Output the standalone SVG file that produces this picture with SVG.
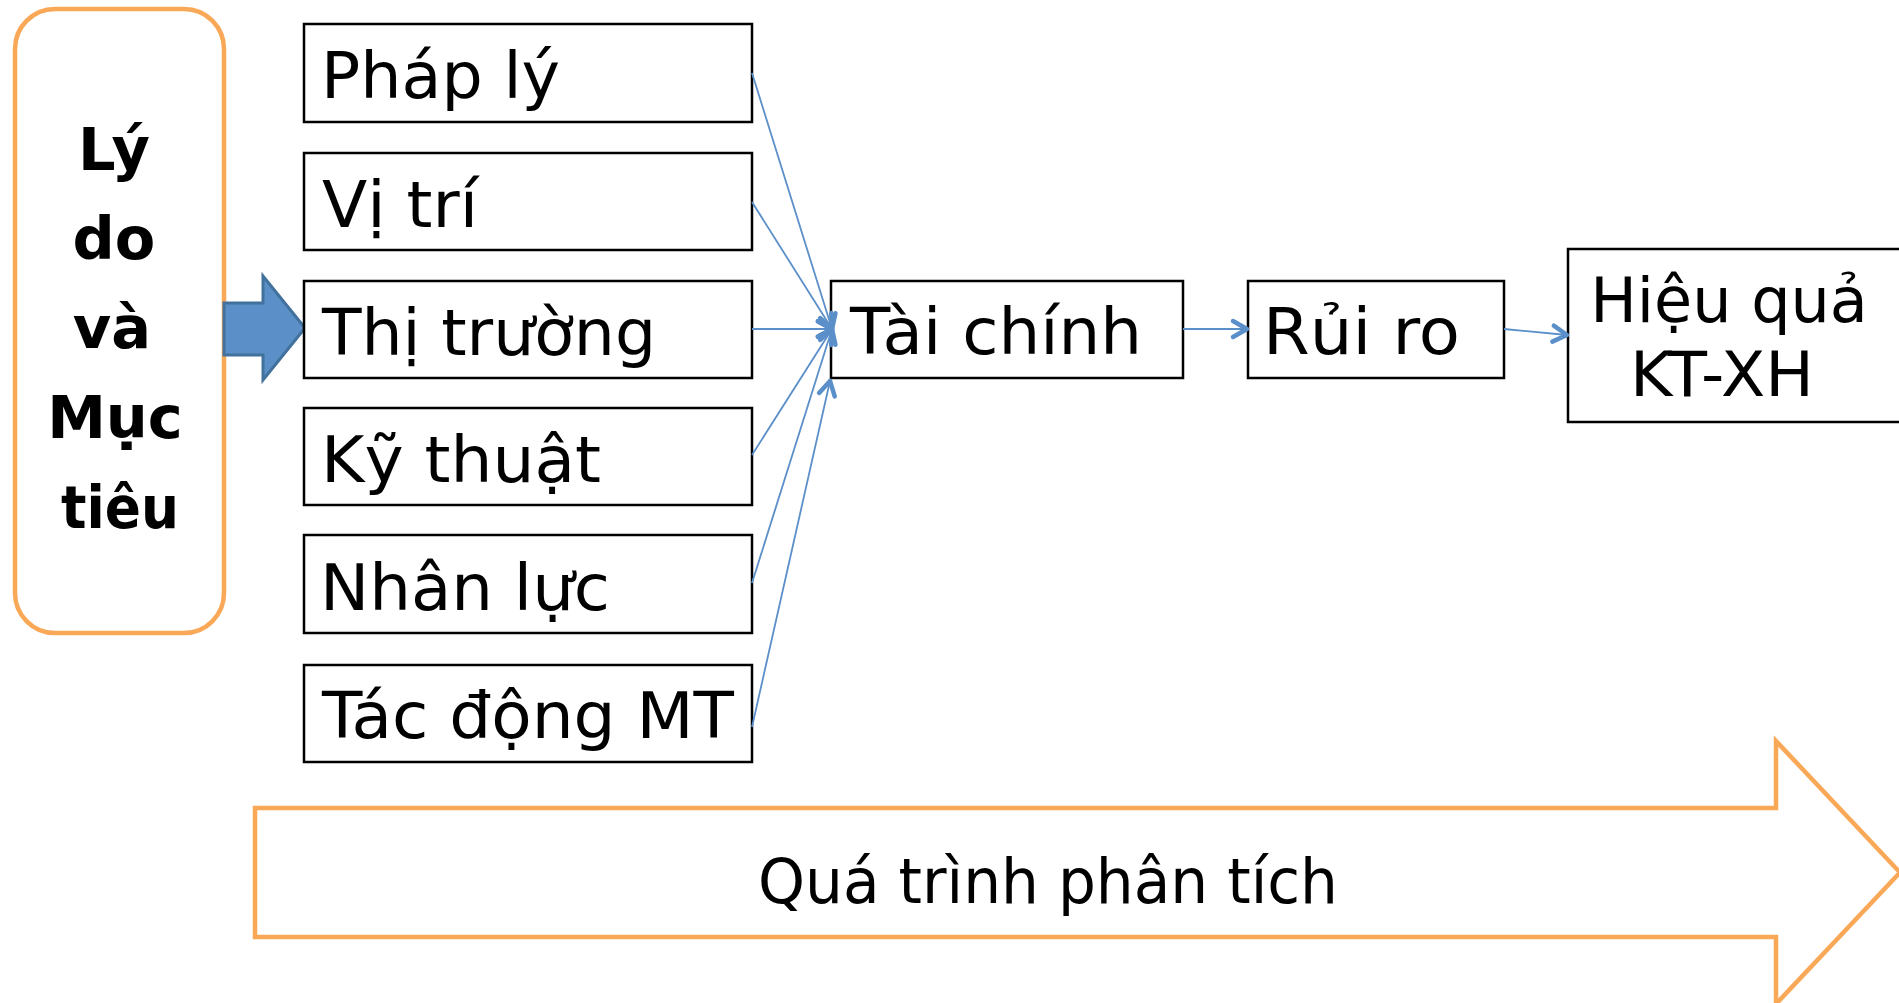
<svg xmlns="http://www.w3.org/2000/svg" width="1899" height="1003" viewBox="0 0 1899 1003">
<style>
.box{fill:#fff;stroke:#000;stroke-width:2.5}
.t{font-family:"DejaVu Sans","Liberation Sans",sans-serif;font-size:64px;fill:#000}
.h{font-family:"DejaVu Sans","Liberation Sans",sans-serif;font-size:62px;fill:#000;text-anchor:middle}
.b{font-family:"DejaVu Sans","Liberation Sans",sans-serif;font-size:59px;font-weight:bold;fill:#000;text-anchor:middle}
.conn{stroke:#5B8FC9;stroke-width:1.8;fill:none;marker-end:url(#ah)}
.org{fill:#fff;stroke:#F9A857;stroke-width:4.5}
</style>
<defs>
<marker id="ah" markerUnits="userSpaceOnUse" markerWidth="30" markerHeight="30" viewBox="-20 -15 30 30" refX="0" refY="0" orient="auto">
<path d="M-14,-8 L0,0 L-14,8" fill="none" stroke="#5B8FC9" stroke-width="4.5" stroke-linecap="round" stroke-linejoin="round"/>
</marker>
</defs>
<g id="muc-tieu">
<rect class="org" x="15" y="9" width="209" height="624" rx="40" ry="40"/>
<text class="b" x="114" y="170">Lý</text>
<text class="b" x="114" y="259">do</text>
<text class="b" x="112" y="348">và</text>
<text class="b" x="115" y="438">Mục</text>
<text class="b" x="120" y="528" textLength="118" lengthAdjust="spacingAndGlyphs">tiêu</text>
</g>
<g id="block-arrow">
<path d="M224,303 L263,303 L263,276 L305,328 L263,380 L263,355 L224,355 Z" fill="#5B8FC7" stroke="#41719C" stroke-width="3"/>
</g>
<g id="phap-ly"><rect class="box" x="304" y="24" width="448" height="98"/><text class="t" x="321" y="98" textLength="239" lengthAdjust="spacingAndGlyphs">Pháp lý</text></g>
<g id="vi-tri"><rect class="box" x="304" y="153" width="448" height="97"/><text class="t" x="322" y="227" textLength="156" lengthAdjust="spacingAndGlyphs">Vị trí</text></g>
<g id="thi-truong"><rect class="box" x="304" y="281" width="448" height="97"/><text class="t" x="322" y="355" textLength="334" lengthAdjust="spacingAndGlyphs">Thị trường</text></g>
<g id="ky-thuat"><rect class="box" x="304" y="408" width="448" height="97"/><text class="t" x="321" y="482" textLength="280" lengthAdjust="spacingAndGlyphs">Kỹ thuật</text></g>
<g id="nhan-luc"><rect class="box" x="304" y="535" width="448" height="98"/><text class="t" x="320" y="610" textLength="290" lengthAdjust="spacingAndGlyphs">Nhân lực</text></g>
<g id="tac-dong"><rect class="box" x="304" y="665" width="448" height="97"/><text class="t" x="322" y="738" textLength="412" lengthAdjust="spacingAndGlyphs">Tác động MT</text></g>
<g id="tai-chinh"><rect class="box" x="831" y="281" width="352" height="97"/><text class="t" x="850" y="354" textLength="292" lengthAdjust="spacingAndGlyphs">Tài chính</text></g>
<g id="rui-ro"><rect class="box" x="1248" y="281" width="256" height="97"/><text class="t" x="1263" y="354" textLength="197" lengthAdjust="spacingAndGlyphs">Rủi ro</text></g>
<g id="hieu-qua"><rect class="box" x="1568" y="249" width="340" height="173"/><text class="h" x="1729" y="322">Hiệu quả</text><text class="h" x="1722" y="396" textLength="184" lengthAdjust="spacingAndGlyphs">KT-XH</text></g>
<g id="connectors">
<line class="conn" x1="752" y1="73" x2="832" y2="329"/>
<line class="conn" x1="752" y1="202" x2="832" y2="329"/>
<line class="conn" x1="752" y1="329" x2="832" y2="329"/>
<line class="conn" x1="752" y1="455" x2="832" y2="329"/>
<line class="conn" x1="752" y1="583" x2="832" y2="329"/>
<line class="conn" x1="752" y1="727" x2="830" y2="381"/>
<line class="conn" x1="1183" y1="329" x2="1247" y2="329"/>
<line class="conn" x1="1504" y1="329" x2="1567" y2="335"/>
</g>
<g id="process">
<path class="org" d="M255,808 L1776,808 L1776,741 L1900,872.5 L1776,1004 L1776,937 L255,937 Z"/>
<text class="h" x="1048" y="903" textLength="580" lengthAdjust="spacingAndGlyphs">Quá trình phân tích</text>
</g>
</svg>
